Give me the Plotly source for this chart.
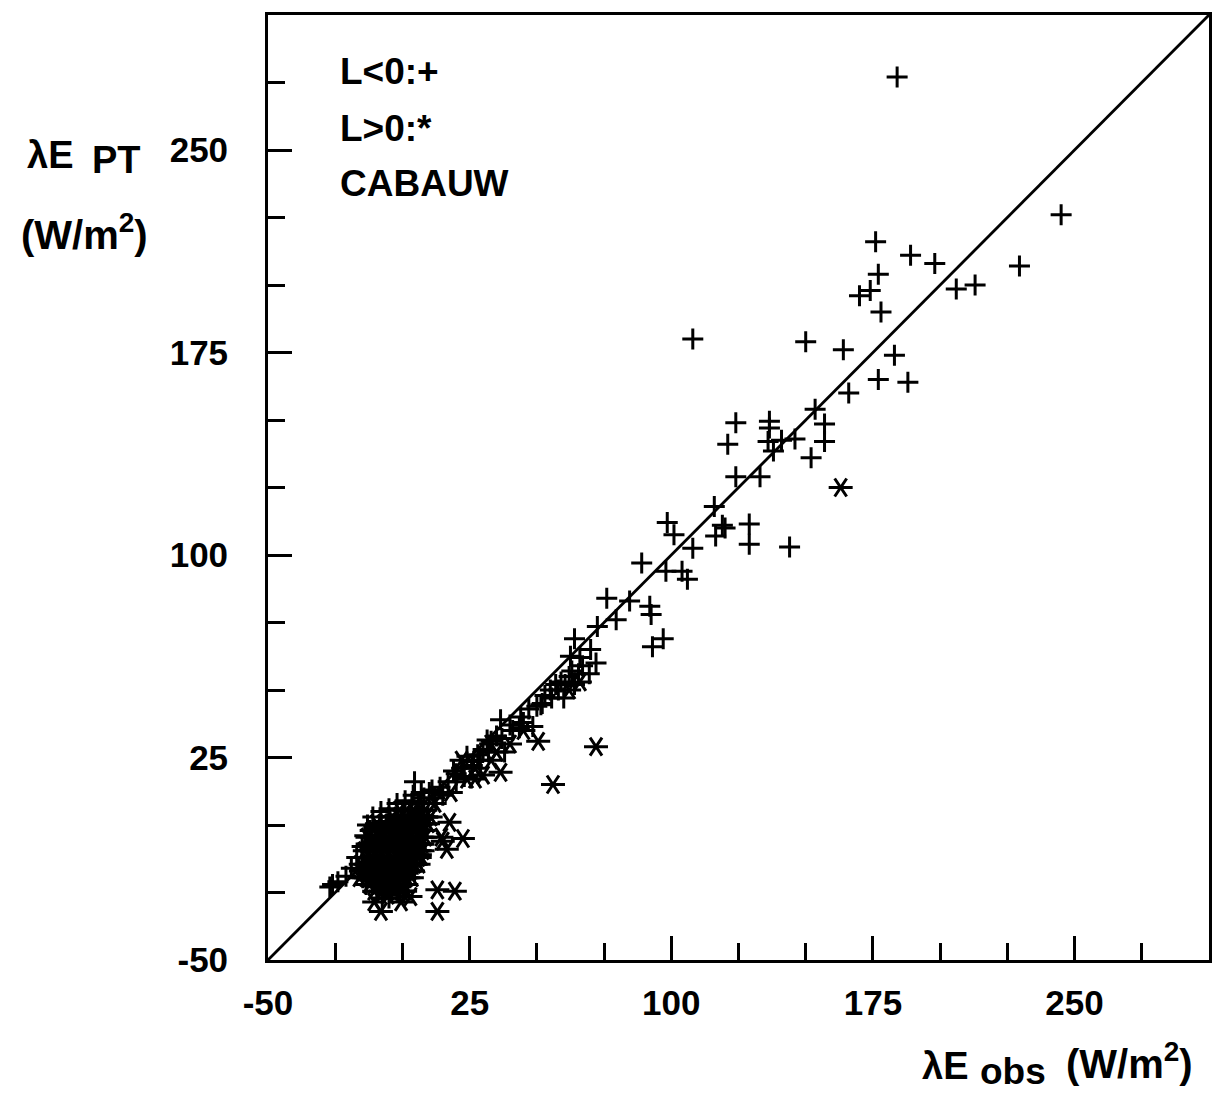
import plotly.graph_objects as go

# ---------------- data ----------------
# L<0 observations (plotted with "+")
plus_x = [184, 245, 176, 189, 198, 177, 174, 170, 206, 213, 229.5, 178, 108, 150, 164, 183, 177, 188, 166,
          153.5, 124, 136.5, 136.5, 157, 121, 136, 141, 146, 157, 138, 152, 124, 133, 116, 98.5, 101, 119, 120,
          129, 116.5, 129, 144, 108, 89, 98, 104, 106, 76, 84.5, 92, 92.5, 97, 93, 72.5, 79.5, 64, 62.5, 72,
          65.5, 60.5, 69.5, 51.5, 55.5, 36.5, 43.5, 48.5, 31.5, 38, 26.5, 20, 4.5, 24, -26,
          8, 11, 14, 17, 19, 22, 28, 30, 33, 35, 40, 44, 47, 50, 53, 57, 58, 62, 60, 64, 66, 70,
          12, 15, 20, 23, 26, 29, 32, 37, 41, 45, 52, 55, 59, 63, 67,
          -27, -24, -21, -19, -17, -15, -14, -13, -11, -8, -5, -2, 1, 4, 7, 10,
          3.5, 6,
          0.25, 2.75, 5.25, 7.75,
          -5, -2.5, 0, 2.5, 5, 7.5, 9.5,
          -8.25, -5.75, -3.25, -0.75, 1.75, 4.25, 6.75, 9,
          -12, -9.5, -7, -4.5, -2, 0.5, 3, 5.5, 8.5,
          -11.75, -9.25, -6.75, -4.25, -1.75, 0.75, 3.25, 5.75, 8,
          -13.5, -11, -8.5, -6, -3.5, -1, 1.5, 4, 6.5, 8,
          -12.75, -10.25, -7.75, -5.25, -2.75, -0.25, 2.25, 4.75, 7,
          -15, -12.5, -10, -7.5, -5, -2.5, 0, 2.5, 5, 7,
          -14.25, -11.75, -9.25, -6.75, -4.25, -1.75, 0.75, 3.25, 5.5,
          -16, -13.5, -11, -8.5, -6, -3.5, -1, 1.5, 4.5,
          -14.75, -12.25, -9.75, -7.25, -4.75, -2.25, 0.25, 2.75,
          -13.5, -11, -8.5, -6, -3.5, -1, 2,
          -9.25, -6.75, -4.25, -1.75, 0.5,
          -7.5, -5]
plus_y = [277, 226, 216, 211, 208, 204, 198, 196, 198.5, 200, 207, 190, 180, 179, 176, 174, 165, 164, 160,
          154, 149, 149.5, 147, 148.5, 141, 142, 142.5, 143, 142, 138.5, 136, 129, 129, 118, 112, 107.5, 111, 110,
          111.5, 107, 104, 103, 102.5, 97, 94, 94, 91, 84, 83, 81, 78, 69, 66, 73.5, 76, 69, 62.5, 60,
          56, 52, 56, 44.5, 47, 39, 36, 36.5, 31.5, 27, 23.5, 19, 16, 25.5, -22,
          10, 13, 14, 16, 20, 21, 26, 28, 31, 33, 37, 40, 43, 44, 48, 52, 50, 55, 47, 52, 62, 65,
          10, 11, 16, 18, 22, 24, 27, 32, 35, 38, 45, 50, 53, 57, 59,
          -23, -21, -19, -16, -12, -8, -4, 0, 3, 5, 6, 8, 9, 11, 12, 12,
          8, 8,
          5.5, 5.5, 5.5, 5.5,
          3, 3, 3, 3, 3, 3, 3,
          0.5, 0.5, 0.5, 0.5, 0.5, 0.5, 0.5, 0.5,
          -2, -2, -2, -2, -2, -2, -2, -2, -2,
          -4.5, -4.5, -4.5, -4.5, -4.5, -4.5, -4.5, -4.5, -4.5,
          -7, -7, -7, -7, -7, -7, -7, -7, -7, -7,
          -9.5, -9.5, -9.5, -9.5, -9.5, -9.5, -9.5, -9.5, -9.5,
          -12, -12, -12, -12, -12, -12, -12, -12, -12, -12,
          -14.5, -14.5, -14.5, -14.5, -14.5, -14.5, -14.5, -14.5, -14.5,
          -17, -17, -17, -17, -17, -17, -17, -17, -17,
          -19.5, -19.5, -19.5, -19.5, -19.5, -19.5, -19.5, -19.5,
          -22, -22, -22, -22, -22, -22, -22,
          -24.5, -24.5, -24.5, -24.5, -24.5,
          -27, -27]

# L>0 observations (plotted with "*")
star_x = [-1, 1.5, 4, 6.5, 8.5,
          -9.5, -7, -4.5, -2, 0.5, 3, 5.5, 8, 9.5,
          -13, -10.5, -8, -5.5, -3, -0.5, 2, 4.5, 7, 8.5,
          -14, -11.5, -9, -6.5, -4, -1.5, 1, 3.5, 6, 7.5,
          -15.5, -13, -10.5, -8, -5.5, -3, -0.5, 2, 4.5, 6,
          -16, -13.5, -11, -8.5, -6, -3.5, -1, 1.5, 3.5,
          -10.5, -8, -5.5, -3, -0.5, 1,
          -3.75, -1.25, 1.25, 3.75, 6.25, 8.75,
          -10.75, -8.25, -5.75, -3.25, -0.75, 1.75, 4.25, 6.75,
          -12.25, -9.75, -7.25, -4.75, -2.25, 0.25, 2.75, 5.25, 7.25,
          -13.75, -11.25, -8.75, -6.25, -3.75, -1.25, 1.25, 3.75, 6,
          -14.75, -12.25, -9.75, -7.25, -4.75, -2.25, 0.25, 2.75,
          -12.25, -9.75, -7.25, -4.75, -2.25, 0.75,
          22.5, 15, 16.5, 13, 19.5, 13, -8, -0.5, -10.5, 5.5, 1.5, 50.5, 72, 36.5, 56, 30, 163,
          14.5, 6.5, -11, -5.5, 3, 33, 35, 22, 27, 12, 18, 24,
          27, 33, 40, 45, 62, 66, 10.5, 17.5]
star_y = [5.5, 5.5, 5.5, 5.5, 5.5,
          0.5, 0.5, 0.5, 0.5, 0.5, 0.5, 0.5, 0.5, 0.5,
          -4.5, -4.5, -4.5, -4.5, -4.5, -4.5, -4.5, -4.5, -4.5, -4.5,
          -9.5, -9.5, -9.5, -9.5, -9.5, -9.5, -9.5, -9.5, -9.5, -9.5,
          -14.5, -14.5, -14.5, -14.5, -14.5, -14.5, -14.5, -14.5, -14.5, -14.5,
          -19.5, -19.5, -19.5, -19.5, -19.5, -19.5, -19.5, -19.5, -19.5,
          -24.5, -24.5, -24.5, -24.5, -24.5, -24.5,
          3, 3, 3, 3, 3, 3,
          -2, -2, -2, -2, -2, -2, -2, -2,
          -7, -7, -7, -7, -7, -7, -7, -7, -7,
          -12, -12, -12, -12, -12, -12, -12, -12, -12,
          -17, -17, -17, -17, -17, -17, -17, -17,
          -22, -22, -22, -22, -22, -22,
          -5, -6, -9, -24, -24.5, -32, -32, -28.5, -28.5, -11, -11, 31, 29, 19.5, 15, 18.5, 125,
          -4.5, -11, -15, -26, -26.5, 30, 27, 24, 21, 8, 12, 17,
          17, 24, 30, 35, 50, 53, 3, 1]

# 1:1 line
line_x = [-50, 300]
line_y = [-50, 300]

major_ticks = [-50, 25, 100, 175, 250]
tick_labels = ["-50", "25", "100", "175", "250"]
minor_ticks = [-25, 0, 50, 75, 125, 150, 200, 225, 275]
axis_range = [-50, 300]

# ---------------- figure ----------------
FONT = "Liberation Sans, Arial, Helvetica, sans-serif"
INK = "black"

fig = go.Figure()
fig.add_trace(go.Scatter(x=line_x, y=line_y, mode="lines",
                         line=dict(color=INK, width=2.8), hoverinfo="skip", showlegend=False))
fig.add_trace(go.Scatter(x=plus_x, y=plus_y, mode="markers", showlegend=False,
                         marker=dict(symbol="cross-thin-open", size=15, color=INK,
                                     line=dict(color=INK, width=3.0))))
for sym in ["y-left-open", "y-right-open"]:
    fig.add_trace(go.Scatter(x=star_x, y=star_y, mode="markers", showlegend=False,
                             marker=dict(symbol=sym, size=15, color=INK,
                                         line=dict(color=INK, width=3.0))))

axis_common = dict(
    range=axis_range, showgrid=False, zeroline=False,
    showline=True, linecolor=INK, linewidth=2.8, mirror=True,
    ticks="inside", ticklen=24, tickwidth=2.6, tickcolor=INK,
    tickvals=major_ticks, ticktext=tick_labels,
    tickfont=dict(family=FONT, size=35, color=INK, weight="bold"),
    minor=dict(tickvals=minor_ticks, ticks="inside", ticklen=17, tickwidth=2.6, tickcolor=INK),
)
fig.update_xaxes(**axis_common, ticklabelstandoff=10)
fig.update_yaxes(**axis_common, ticklabelstandoff=30)

def txt(s, x, y, size=36, xanchor="center", weight="bold"):
    fig.add_annotation(text=s, x=x, y=y, xref="paper", yref="paper", showarrow=False,
                       xanchor=xanchor, yanchor="middle",
                       font=dict(family=FONT, size=size, color=INK, weight=weight))

# legend-like notes inside the frame
txt("L<0:+", 0.074, 0.9397, size=37, xanchor="left")
txt("L>0:*", 0.074, 0.8804, size=37, xanchor="left")
txt("CABAUW", 0.074, 0.8222, size=37, xanchor="left")

# y-axis title
txt("λE", -0.232, 0.8519, size=38)
txt("PT", -0.161, 0.8466, size=38)
txt("(W/m<sup>2</sup>)", -0.195, 0.770, size=40)

# x-axis title
txt("λE", 0.7193, -0.1122, size=38)
txt("obs", 0.7913, -0.1185, size=37)
txt("(W/m<sup>2</sup>)", 0.9153, -0.107, size=40)

fig.update_layout(
    width=1220, height=1093,
    margin=dict(l=268, r=8, t=15, b=133),
    paper_bgcolor="white", plot_bgcolor="white",
    showlegend=False,
)

fig.write_html("out.html", config={"displayModeBar": False},
               post_script="document.body.style.margin='0px';")
